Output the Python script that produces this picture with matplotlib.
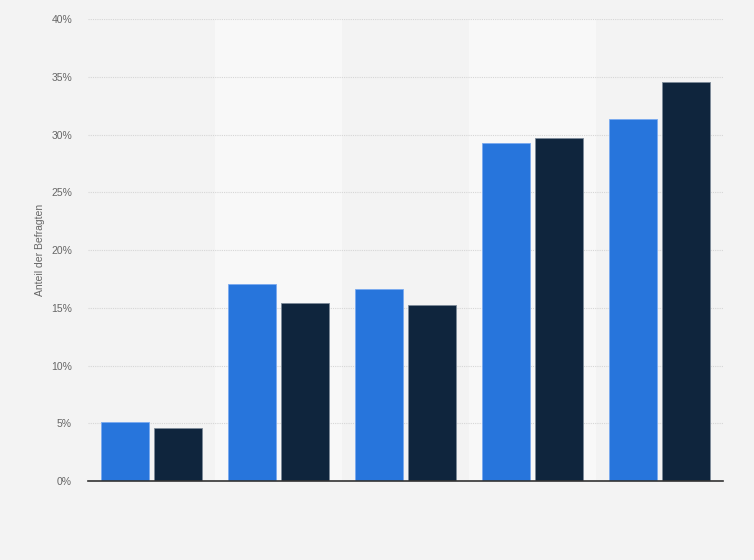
import numpy as np
import matplotlib
matplotlib.use("Agg")
import matplotlib.pyplot as plt
from matplotlib.ticker import FuncFormatter

plt.rcParams["font.family"] = ["Liberation Sans", "DejaVu Sans"]

# data (x labels are blank in the original)
categories = ["", "", "", "", ""]
series_a = [5.1, 17.1, 16.6, 29.3, 31.4]   # blue
series_b = [4.6, 15.4, 15.25, 29.7, 34.6]  # dark navy
yticks = [0, 5, 10, 15, 20, 25, 30, 35, 40]

BG, BAND = "#f3f3f3", "#f8f8f8"
BLUE, NAVY = "#2775dc", "#0f253d"

fig = plt.figure(figsize=(7.54, 5.6), dpi=100, facecolor=BG)
ax = fig.add_axes([0.1167, 0.141, 0.8422, 0.8245])
ax.set_facecolor(BG)

x = np.arange(len(categories))
w = 0.38
off = 0.209
for i in x:
    if i % 2 == 1:
        ax.axvspan(i - 0.5, i + 0.5, color=BAND, zorder=0, lw=0)
ax.bar(x - off, series_a, w, color=BLUE, edgecolor="#7aaaf0", lw=0.6, zorder=3)
ax.bar(x + off, series_b, w, color=NAVY, edgecolor="#7d8a99", lw=0.6, zorder=3)

ax.set_xlim(-0.5, len(categories) - 0.5)
ax.set_ylim(0, 40)
ax.set_yticks(yticks)
ax.yaxis.set_major_formatter(FuncFormatter(lambda v, p: f"{v:.0f}%"))
ax.grid(axis="y", color="#d6d6d6", ls=(0, (1, 1)), lw=0.8, zorder=1)
ax.set_xticks(x)
ax.set_xticklabels(categories)
ax.tick_params(axis="both", length=0, labelsize=7.5, labelcolor="#666666")
ax.tick_params(axis="y", pad=11.5)
for s in ["top", "right", "left"]:
    ax.spines[s].set_visible(False)
ax.spines["bottom"].set_color("#333333")
ax.spines["bottom"].set_linewidth(1.2)
ax.spines["bottom"].set_zorder(4)
ax.set_ylabel("Anteil der Befragten", fontsize=7.5, color="#666666")
ax.yaxis.set_label_coords(-0.068, 0.5)

fig.savefig("out.png", dpi=100, facecolor=BG)
